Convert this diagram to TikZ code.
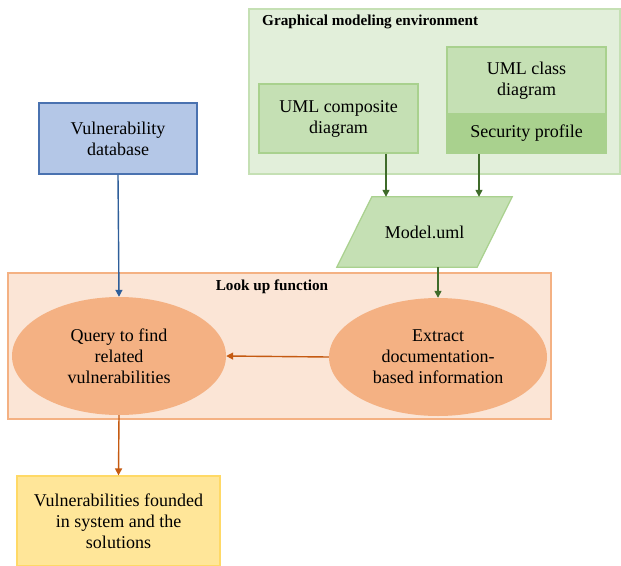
\documentclass[tikz,border=0pt]{standalone}
\usepackage{fontspec}
\setmainfont{Liberation Serif}
\usetikzlibrary{arrows.meta,backgrounds,shapes.geometric}

\definecolor{envfill}{HTML}{E2EFDA}
\definecolor{envline}{HTML}{C5E0B4}
\definecolor{umlfill}{HTML}{C5E0B4}
\definecolor{umlline}{HTML}{A9D18E}
\definecolor{secfill}{HTML}{A9D18E}
\definecolor{greenarrow}{HTML}{3F6B2A}
\definecolor{dbfill}{HTML}{B4C7E7}
\definecolor{dbline}{HTML}{4A72B0}
\definecolor{bluearrow}{HTML}{2E5E9A}
\definecolor{lookfill}{HTML}{FBE5D6}
\definecolor{lookline}{HTML}{F4B183}
\definecolor{ellfill}{HTML}{F4B183}
\definecolor{orangearrow}{HTML}{C55A11}
\definecolor{resfill}{HTML}{FFE699}
\definecolor{resline}{HTML}{FFD966}

\tikzset{
  txt/.style={font=\fontsize{18}{21}\selectfont, align=center, text=black},
  box/.style={txt, rectangle, inner sep=0pt, line width=1.2pt},
  ell/.style={txt, ellipse, inner sep=0pt, fill=ellfill},
  heading/.style={font=\bfseries\fontsize{15.2}{18}\selectfont, inner sep=0pt},
  flow/.style={line width=1.4pt, -{Triangle[width=7pt,length=7pt]}},
}

\begin{document}
\begin{tikzpicture}[x=1pt,y=-1pt]
\useasboundingbox (0,0) rectangle (621,565);

% graphical modeling environment
\node[box, draw=envline, fill=envfill, minimum width=371, minimum height=165] (env) at (434.5,91.5) {};
\node[heading, anchor=west] (envtitle) at (262,22) {Graphical modeling environment};
\node[box, draw=umlline, fill=umlfill, minimum width=159, minimum height=69] (comp) at (338.5,118.5) {UML composite\\diagram};
\node[box, draw=umlline, fill=umlfill, minimum width=159, minimum height=67] (cls) at (526.5,80.5) {UML class\\diagram};
\node[box, draw=umlline, fill=secfill, minimum width=159, minimum height=39] (sec) at (526.5,133.5) {Security profile};

% model file (parallelogram)
\node[txt, minimum width=140, minimum height=70, inner sep=0pt] (model) at (424.5,232) {Model.uml};
\begin{scope}[on background layer]
\filldraw[fill=umlfill, draw=umlline, line width=1.2pt]
  ([xshift=-17.5]model.south west) -- ([xshift=-17.5]model.south east)
  -- ([xshift=17.5]model.north east) -- ([xshift=17.5]model.north west) -- cycle;
\end{scope}

% vulnerability database
\node[box, draw=dbline, fill=dbfill, minimum width=158, minimum height=71] (db) at (118,138.5) {Vulnerability\\database};

% look up function
\begin{scope}[on background layer]
\node[box, draw=lookline, fill=lookfill, minimum width=543, minimum height=146] (look) at (279.5,346) {};
\end{scope}
\node[heading] (looktitle) at (272,287) {Look up function};
\node[ell, minimum width=214, minimum height=118] (query) at (119,356) {Query to find\\related\\vulnerabilities};
\node[ell, minimum width=218, minimum height=118] (ext) at (438,357) {Extract\\documentation-\\based information};

% results
\node[box, draw=resline, fill=resfill, minimum width=203, minimum height=90] (res) at (118.5,521) {Vulnerabilities founded\\in system and the\\solutions};

% connectors
\draw[flow, greenarrow] ([xshift=47.5]comp.south) -- ([xshift=47.5]comp.south |- model.north);
\draw[flow, greenarrow] ([xshift=-47.5]sec.south) -- ([xshift=-47.5]sec.south |- model.north);
\draw[flow, greenarrow] (model.south -| ext.north) -- (ext.north);
\draw[flow, bluearrow] (db.south) -- (query.north);
\draw[flow, orangearrow] (ext.west) -- (query.east);
\draw[flow, orangearrow] (query.south) -- (res.north);
\end{tikzpicture}
\end{document}
